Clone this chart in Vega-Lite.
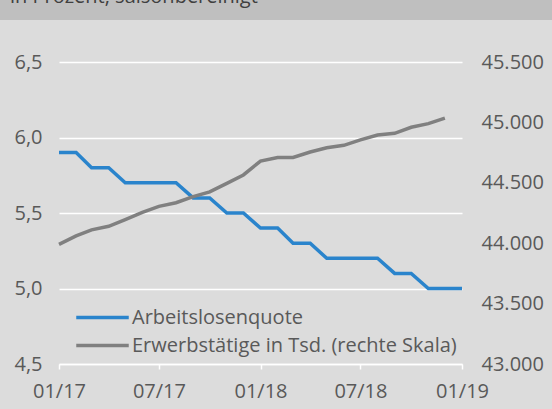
{
  "$schema": "https://vega.github.io/schema/vega-lite/v6.json",
  "background": "#dcdcdc",
  "padding": 0,
  "spacing": 32,
  "bounds": "full",
  "columns": 1,
  "config": {
    "view": {"stroke": null},
    "font": "Open Sans",
    "axis": {"labelFont": "Open Sans", "labelFontSize": 20, "labelColor": "#595959", "title": null},
    "legend": {"labelFont": "Open Sans"}
  },
  "concat": [
    {
      "width": 552,
      "height": 20,
      "view": {"fill": "#bfbfbf", "stroke": null},
      "data": {"values": [{"t": "in Prozent, saisonbereinigt"}]},
      "mark": {"type": "text", "clip": true, "align": "left", "baseline": "alphabetic", "dx": -266, "dy": -7, "fontSize": 20, "color": "#404040"},
      "encoding": {"text": {"field": "t", "type": "nominal"}}
    },
    {
      "width": 552,
      "height": 302,
      "data": {
        "values": [
          {"month": "2017-01-01", "quote": 5.9, "erw": 43990},
          {"month": "2017-02-01", "quote": 5.9, "erw": 44060},
          {"month": "2017-03-01", "quote": 5.8, "erw": 44110},
          {"month": "2017-04-01", "quote": 5.8, "erw": 44140},
          {"month": "2017-05-01", "quote": 5.7, "erw": 44195},
          {"month": "2017-06-01", "quote": 5.7, "erw": 44255},
          {"month": "2017-07-01", "quote": 5.7, "erw": 44305},
          {"month": "2017-08-01", "quote": 5.7, "erw": 44335},
          {"month": "2017-09-01", "quote": 5.6, "erw": 44385},
          {"month": "2017-10-01", "quote": 5.6, "erw": 44425},
          {"month": "2017-11-01", "quote": 5.5, "erw": 44495},
          {"month": "2017-12-01", "quote": 5.5, "erw": 44565},
          {"month": "2018-01-01", "quote": 5.4, "erw": 44680},
          {"month": "2018-02-01", "quote": 5.4, "erw": 44710},
          {"month": "2018-03-01", "quote": 5.3, "erw": 44710},
          {"month": "2018-04-01", "quote": 5.3, "erw": 44755},
          {"month": "2018-05-01", "quote": 5.2, "erw": 44790},
          {"month": "2018-06-01", "quote": 5.2, "erw": 44810},
          {"month": "2018-07-01", "quote": 5.2, "erw": 44855},
          {"month": "2018-08-01", "quote": 5.2, "erw": 44895},
          {"month": "2018-09-01", "quote": 5.1, "erw": 44910},
          {"month": "2018-10-01", "quote": 5.1, "erw": 44960},
          {"month": "2018-11-01", "quote": 5.0, "erw": 44990},
          {"month": "2018-12-01", "quote": 5.0, "erw": 45035},
          {"month": "2019-01-01", "quote": 5.0, "erw": null}
        ]
      },
      "encoding": {
        "x": {
          "field": "month",
          "type": "temporal",
          "scale": {
            "type": "utc",
            "range": [59, 462],
            "domain": [
              {"year": 2017, "month": 1, "date": 1, "utc": true},
              {"year": 2019, "month": 1, "date": 1, "utc": true}
            ]
          },
          "axis": {
            "labelExpr": "utcFormat(datum.value, '%m/%y')",
            "values": [
              {"year": 2017, "month": 1, "date": 1, "utc": true},
              {"year": 2017, "month": 7, "date": 1, "utc": true},
              {"year": 2018, "month": 1, "date": 1, "utc": true},
              {"year": 2018, "month": 7, "date": 1, "utc": true},
              {"year": 2019, "month": 1, "date": 1, "utc": true}
            ],
            "grid": false,
            "domain": true,
            "domainColor": "#ffffff",
            "domainWidth": 1.5,
            "ticks": true,
            "tickColor": "#ffffff",
            "tickWidth": 1.5,
            "tickSize": 5,
            "labelPadding": 12,
            "labelFlush": false,
            "minExtent": 45,
            "maxExtent": 45
          }
        }
      },
      "layer": [
        {
          "mark": {"type": "line", "strokeWidth": 3.5},
          "encoding": {
            "y": {
              "field": "quote",
              "type": "quantitative",
              "scale": {"domain": [4.5, 6.5], "nice": false, "zero": false},
              "axis": {
                "orient": "left",
                "offset": -59,
                "values": [4.5, 5, 5.5, 6, 6.5],
                "labelExpr": "replace(format(datum.value, '.1f'), '.', ',')",
                "grid": true,
                "gridColor": "#ffffff",
                "gridWidth": 1.5,
                "domain": false,
                "ticks": false,
                "labelPadding": 17
              }
            },
            "color": {
              "datum": "Arbeitslosenquote",
              "scale": {
                "domain": ["Arbeitslosenquote", "Erwerbstätige in Tsd. (rechte Skala)"],
                "range": ["#2a84cc", "#808080"]
              },
              "legend": {
                "orient": "none",
                "legendX": 90,
                "legendY": 305,
                "direction": "vertical",
                "title": null,
                "symbolType": "M-2.5,0H2.5",
                "symbolSize": 441,
                "symbolStrokeWidth": 3.5,
                "labelFontSize": 20,
                "labelColor": "#595959",
                "labelLimit": 500,
                "labelOffset": 17,
                "rowPadding": 5,
                "padding": 0
              }
            }
          }
        },
        {
          "mark": {"type": "line", "strokeWidth": 3.5},
          "encoding": {
            "y": {
              "field": "erw",
              "type": "quantitative",
              "scale": {"domain": [43000, 45500], "nice": false, "zero": false},
              "axis": {
                "orient": "right",
                "offset": -90,
                "values": [43000, 43500, 44000, 44500, 45000, 45500],
                "labelExpr": "replace(format(datum.value, ','), ',', '.')",
                "grid": false,
                "domain": false,
                "ticks": false,
                "labelPadding": 19
              }
            },
            "color": {"datum": "Erwerbstätige in Tsd. (rechte Skala)"}
          }
        }
      ],
      "resolve": {"scale": {"y": "independent"}}
    }
  ]
}
